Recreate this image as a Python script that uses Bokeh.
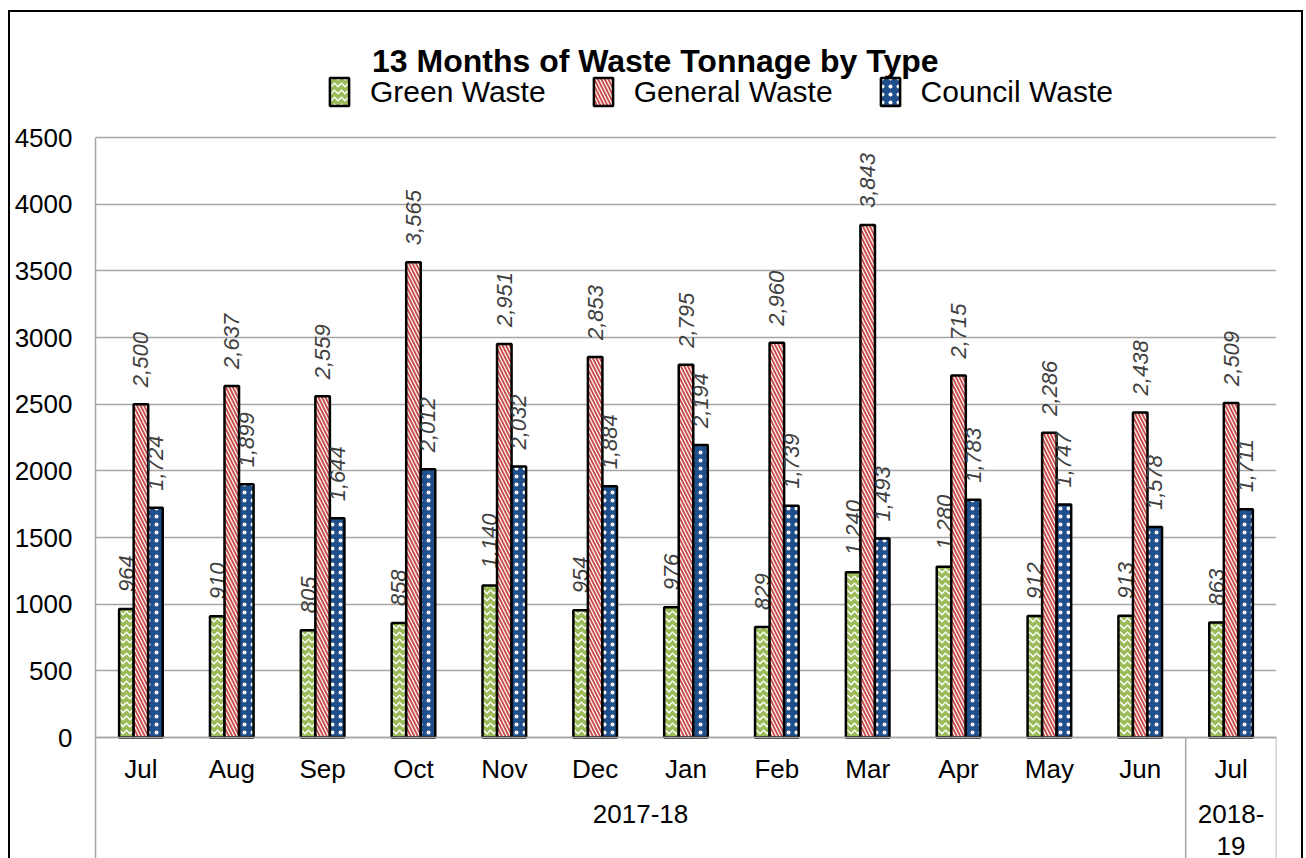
from bokeh.plotting import figure
from bokeh.models import (ColumnDataSource, Range1d, FixedTicker, Legend, LegendItem,
                          Label, CustomJSTickFormatter)
from bokeh.transform import dodge
from bokeh.core.properties import value
from bokeh.embed import file_html
from bokeh.resources import INLINE
import math

# ---------------- data ----------------
months = ["Jul", "Aug", "Sep", "Oct", "Nov", "Dec", "Jan", "Feb", "Mar", "Apr", "May", "Jun", "Jul"]
fiscal_years = ["2017-18", "2018-19"]
fiscal_year_spans = [12, 1]
green_waste = [964, 910, 805, 858, 1140, 954, 976, 829, 1240, 1280, 912, 913, 863]
general_waste = [2500, 2637, 2559, 3565, 2951, 2853, 2795, 2960, 3843, 2715, 2286, 2438, 2509]
council_waste = [1724, 1899, 1644, 2012, 2032, 1884, 2194, 1739, 1493, 1783, 1747, 1578, 1711]
series_names = ["Green Waste", "General Waste", "Council Waste"]
y_ticks = [0, 500, 1000, 1500, 2000, 2500, 3000, 3500, 4000, 4500]
title_text = "13 Months of Waste Tonnage by Type"

FONT = "Liberation Sans"
GRID = "#a6a6a6"

# layout geometry (pixels)
FRAME_W, FRAME_H = 1181, 858
PX_PER_UNIT = 600 / 4500          # 4500 tonnes span 600 px
ABOVE_PX, BELOW_PX = 137, 121      # frame space above 4500 and below 0
y_top = 4500 + ABOVE_PX / PX_PER_UNIT
y_bot = -BELOW_PX / PX_PER_UNIT

x_pos = [i + 0.5 for i in range(len(months))]
src = ColumnDataSource(dict(
    x=x_pos,
    green=green_waste, general=general_waste, council=council_waste,
    green_lbl=[f"{v:,}" for v in green_waste],
    general_lbl=[f"{v:,}" for v in general_waste],
    council_lbl=[f"{v:,}" for v in council_waste],
))

p = figure(output_backend="svg", toolbar_location=None,
           x_range=Range1d(0, len(months)), y_range=Range1d(y_bot, y_top),
           frame_width=FRAME_W, frame_height=FRAME_H,
           min_border_left=95, min_border_right=30, min_border_top=0, min_border_bottom=0)
p.outline_line_color = None
p.border_fill_color = None
p.background_fill_color = None
p.styles = {"box-shadow": ("inset 8px 0 0 0 #ffffff, inset 0 10px 0 0 #ffffff, inset -3px 0 0 0 #ffffff, "
                           "inset 10px 0 0 0 #000000, inset 0 12px 0 0 #000000, inset -5px 0 0 0 #000000"),
            "background-color": "white"}

W = 0.16
styles = [
    ("green", "green_lbl", -W, "#9bbb59", "horizontal_wave", "white", 7, 1.5),
    ("general", "general_lbl", 0.0, "#c9504d", "left_diagonal_line", "white", 7, 1.2),
    ("council", "council_lbl", W, "#1f4e8a", "dot", "white", 8, 2.5),
]
renderers = []
for field, lbl, off, col, hatch, hcol, hscale, hweight in styles:
    r = p.vbar(x=dodge("x", off), top=field, width=W, bottom=0, source=src,
               fill_color=col, hatch_pattern=hatch, hatch_color=hcol,
               hatch_scale=hscale, hatch_weight=hweight,
               line_color="black", line_width=2.5)
    renderers.append(r)
    p.text(x=dodge("x", off), y=field, text=lbl, source=src, angle=math.pi / 2,
           text_align="left", text_baseline="middle", y_offset=-17,
           text_font=value(FONT), text_font_size="22px", text_font_style="italic",
           text_color="#404040")

# title
p.add_layout(Label(x=len(months) * 0.474, y=4500 + 77 / PX_PER_UNIT, text=title_text,
                   text_align="center", text_baseline="alphabetic",
                   text_font=FONT, text_font_size="32px", text_font_style="bold",
                   text_color="black"))

legend = Legend(items=[LegendItem(label=n, renderers=[r]) for n, r in zip(series_names, renderers)],
                orientation="horizontal", location=(232, FRAME_H - 109),
                glyph_width=24, glyph_height=35, label_standoff=19, spacing=45,
                padding=0, margin=0, border_line_color=None, background_fill_alpha=0,
                label_text_font=FONT, label_text_font_size="30px", label_height=35,
                label_text_color="black")
p.add_layout(legend)

# axes
p.yaxis.ticker = FixedTicker(ticks=y_ticks)
p.yaxis.bounds = (y_bot, 4500)
p.yaxis.major_tick_line_color = None
p.yaxis.minor_tick_line_color = None
p.yaxis.axis_line_color = GRID
p.yaxis.axis_line_width = 1.5
p.yaxis.major_label_text_font = FONT
p.yaxis.major_label_text_font_size = "26px"
p.yaxis.major_label_text_color = "black"
p.yaxis.major_label_standoff = 17

bounds = [0]
for s in fiscal_year_spans:
    bounds.append(bounds[-1] + s)
p.xaxis.fixed_location = 0
p.xaxis.ticker = FixedTicker(ticks=x_pos)
p.xaxis.formatter = CustomJSTickFormatter(args=dict(labels=months),
                                          code="return labels[Math.floor(tick)] || ''")
p.xaxis.major_tick_line_color = None
p.xaxis.minor_tick_line_color = None
p.xaxis.axis_line_color = GRID
p.xaxis.axis_line_width = 1.5
p.xaxis.major_label_text_font = FONT
p.xaxis.major_label_text_font_size = "26px"
p.xaxis.major_label_text_color = "black"
p.xaxis.major_label_standoff = 10

p.ygrid.ticker = FixedTicker(ticks=y_ticks)
p.ygrid.grid_line_color = GRID
p.ygrid.grid_line_width = 1.5
p.xgrid.visible = False

# fiscal-year separators and labels below the month labels
p.segment(x0=bounds[1:], y0=[0] * (len(bounds) - 1), x1=bounds[1:], y1=[y_bot] * (len(bounds) - 1),
          line_color=GRID, line_width=1.5)
lx, lt, lo = [], [], []
for i, fy in enumerate(fiscal_years):
    center = (bounds[i] + bounds[i + 1]) / 2
    lines = [fy] if fiscal_year_spans[i] > 1 else [fy.split("-")[0] + "-", fy.split("-")[1]]
    for k, line in enumerate(lines):
        lx.append(center)
        lt.append(line)
        lo.append(k * 32)
p.text(x=lx, y=[-67 / PX_PER_UNIT] * len(lx), text=lt, y_offset=lo,
       text_align="center", text_baseline="top",
       text_font=value(FONT), text_font_size="26px", text_color="black")

open("out.html", "w").write(file_html(p, INLINE))
